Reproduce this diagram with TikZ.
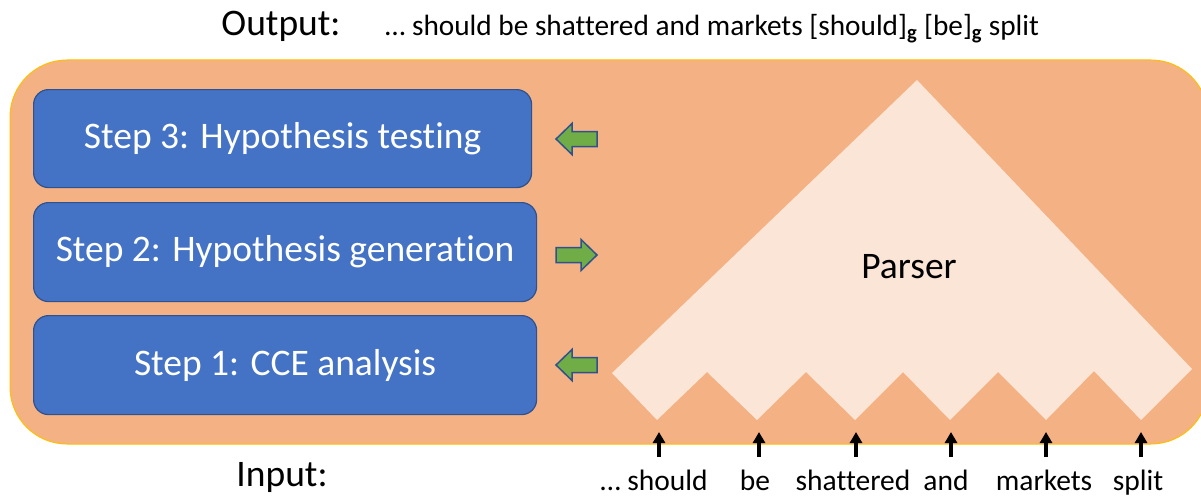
\documentclass[tikz,border=0pt]{standalone}
\usepackage{fontspec}
\setmainfont{Carlito}[Ligatures=NoCommon]
\usetikzlibrary{arrows.meta}
\definecolor{panelfill}{HTML}{F4B183}
\definecolor{panelline}{HTML}{FFC000}
\definecolor{stepfill}{HTML}{4472C4}
\definecolor{stepline}{HTML}{2F528F}
\definecolor{parserfill}{HTML}{FBE5D6}
\definecolor{flowfill}{HTML}{70AD47}
\tikzset{
  stepbox/.style={draw=stepline, line width=1.2pt, fill=stepfill, rounded corners=15pt,
    text=white, font=\fontsize{37.5}{40}\selectfont, anchor=north west, inner sep=0pt},
  flowarrow/.style={draw=stepline, line width=1.5pt, fill=flowfill, line join=miter},
  bigtext/.style={font=\fontsize{37.5}{40}\selectfont, anchor=base, inner sep=0pt},
  word/.style={font=\fontsize{29.5}{32}\selectfont, anchor=base, inner sep=0pt},
  feed/.style={-{Triangle[width=12pt,length=11pt]}, line width=3.6pt, black},
}
\begin{document}
\begin{tikzpicture}[x=1pt,y=-1pt]
\useasboundingbox (0,0) rectangle (1201,495);

% outer panel
\draw[fill=panelfill, draw=panelline, line width=1pt, rounded corners=57pt]
  (10,60) rectangle (1208,444);

% the three steps
\node[stepbox, minimum width=498pt, minimum height=98pt] (s3) at (33,89) {Step 3: Hypothesis testing};
\node[stepbox, minimum width=503pt, minimum height=99pt] (s2) at (33,202) {Step 2: Hypothesis generation};
\node[stepbox, minimum width=503pt, minimum height=99pt] (s1) at (33,315) {Step 1: CCE analysis};

% green flow arrows between steps and parser
\draw[flowarrow] (556,139) -- (572,123.5) -- (572,131.5) -- (597,131.5) -- (597,146.5) -- (572,146.5) -- (572,154.5) -- cycle;
\draw[flowarrow] (597,255) -- (581,239.5) -- (581,247.5) -- (556,247.5) -- (556,262.5) -- (581,262.5) -- (581,270.5) -- cycle;
\draw[flowarrow] (556,365) -- (572,349.5) -- (572,357.5) -- (597,357.5) -- (597,372.5) -- (572,372.5) -- (572,380.5) -- cycle;

% parser triangle with one notch per input word
\fill[parserfill] (612,373) -- (917,80) -- (1192,369) -- (1141,420) -- (1094,371)
  -- (1046,420) -- (998,372) -- (950,420) -- (903,372) -- (855,420) -- (806,372)
  -- (757,420) -- (707,372) -- (657,420) -- cycle;
\node[bigtext] (parser) at (909,278) {Parser};

% output line
\node[bigtext] (outlab) at (281,36) {Output:};
\node[font=\fontsize{29.3}{32}\selectfont, anchor=base west, inner sep=0pt] (outtext) at (385,36)
  {… should be shattered and markets [should]\textsubscript{\textbf{g}} [be]\textsubscript{\textbf{g}} split};

% input line
\node[bigtext] (inlab) at (282,486) {Input:};
\node[word] (w1) at (654,490) {… should};
\node[word] (w2) at (755,490) {be};
\node[word] (w3) at (853,490) {shattered};
\node[word] (w4) at (946,490) {and};
\node[word] (w5) at (1044,490) {markets};
\node[word] (w6) at (1138,490) {split};

\coordinate (t1) at (659,432);
\coordinate (t2) at (759,432);
\coordinate (t3) at (856,432);
\coordinate (t4) at (951,432);
\coordinate (t5) at (1046,432);
\coordinate (t6) at (1141,432);
\foreach \i in {1,...,6} {\draw[feed] (t\i |- 0,457) -- (t\i);}
\end{tikzpicture}
\end{document}
